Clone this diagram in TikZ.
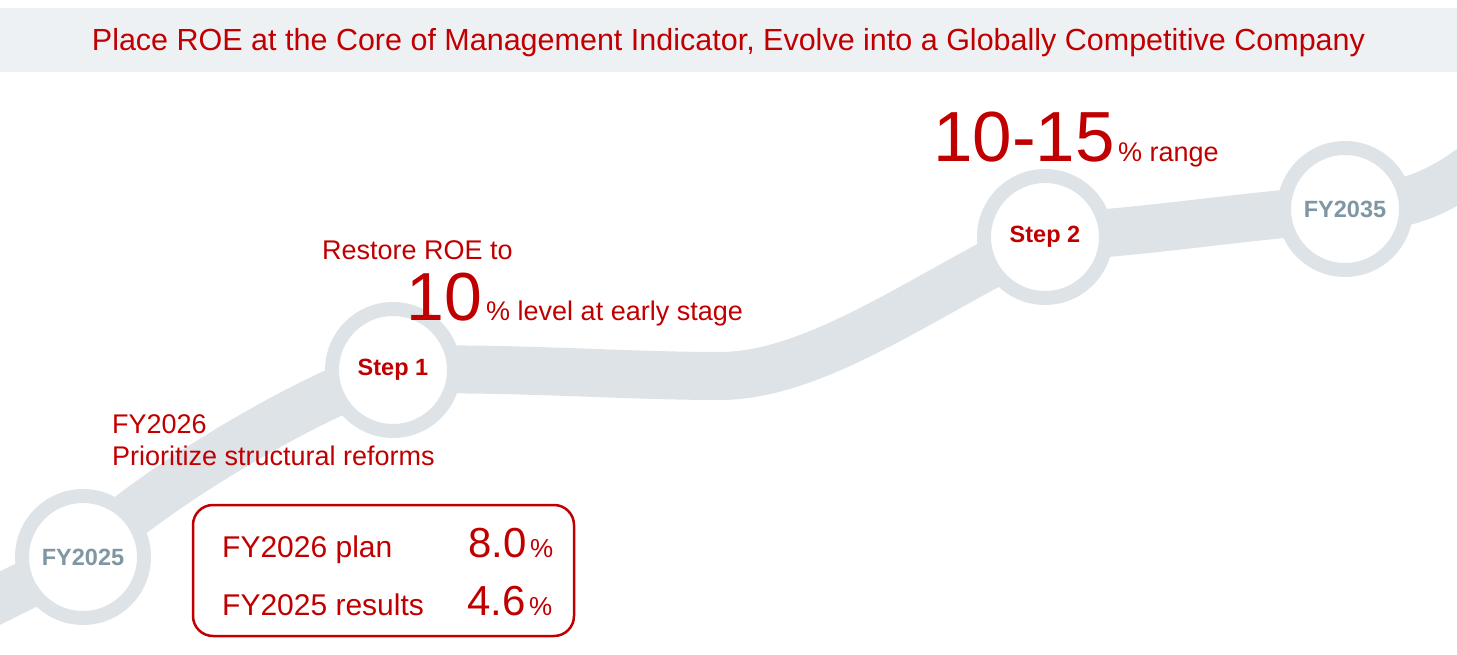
\documentclass[tikz,border=0pt]{standalone}
\usepackage{fontspec}
\setmainfont{Liberation Sans}
\usetikzlibrary{backgrounds}
\definecolor{roeRed}{RGB}{192,0,0}
\definecolor{roadGray}{RGB}{222,227,231}
\definecolor{barGray}{RGB}{238,241,244}
\definecolor{yearGray}{RGB}{127,150,163}
\newcommand{\fs}[1]{\fontsize{#1}{#1}\selectfont}

\begin{document}
\begin{tikzpicture}[x=1pt, y=-1pt, text=roeRed, inner sep=0pt,
    road/.style={draw=roadGray, line width=48}]
		\useasboundingbox (0,0) rectangle (1457,655);
		
		% Title
		\node[fill=barGray, minimum width=1457, minimum height=64] (bar) at (728.5,40) {};
		\node[anchor=base, font=\fs{30.5}] (title) at (728.5,51) {Place ROE at the Core of Management Indicator, Evolve into a Globally Competitive Company};
		
		% Milestones
		\begin{scope}[every node/.style={circle, draw=roadGray, line width=14, fill=white, minimum size=122, font=\bfseries\fs{23.5}}]
			\node[text=yearGray] (fy25) at (83,557) {FY2025};
			\node (step1) at (393,370) {Step 1};
			\node (step2) at (1045,237) {Step 2};
			\node[text=yearGray] (fy35) at (1345,209) {FY2035};
		\end{scope}
		\coordinate (start) at (-20,608);
		\coordinate (dip) at (720,376);
		\coordinate (finish) at (1495,150);
		
		% Road
		\begin{scope}[on background layer]
			\draw[road] (start) -- (fy25.center)
				.. controls +(55,-60) and +(-80,22) .. (step1.center)
				.. controls +(120,-3) and +(-100,0) .. (dip)
				.. controls +(100,0) and +(-110,50) .. (step2.center)
				.. controls +(100,-4) and +(-100,6) .. (fy35.center)
				.. controls +(70,-2) and +(-50,40) .. (finish);
		\end{scope}
		
		% Targets
		\begin{scope}[every node/.style={anchor=base west, font=\fs{27}}]
			\node (fy26) at (112,433) {FY2026};
			\node (reform) at (112,465) {Prioritize structural reforms};
			\node (restore) at (322,260) {Restore ROE to};
			\node[font=\fs{68}] (ten) at (406,320) {10};
			\node (level) at ([xshift=4]ten.base east) {\% level at early stage};
			\node[font=\fs{71}] (range) at (933,162) {10-15};
			\node (rangetxt) at ([xshift=3]range.base east) {\% range};
		\end{scope}
		
		% ROE box
		\node[draw=roeRed, line width=2.5, rounded corners=20, minimum width=381, minimum height=131] (kpi) at (383.5,570.5) {};
		\begin{scope}[every node/.style={anchor=base west, font=\fs{30}}]
			\node (plan) at (222,557) {FY2026 plan};
			\node (result) at (222,615) {FY2025 results};
		\end{scope}
		\begin{scope}[every node/.style={anchor=base east, font=\fs{42}}]
			\node (planval) at (527,557) {8.0};
			\node (resval) at (526,615) {4.6};
		\end{scope}
		\begin{scope}[every node/.style={anchor=base west, font=\fs{26}}]
			\node (planpct) at ([xshift=3]planval.base east) {\%};
			\node (respct) at ([xshift=3]resval.base east) {\%};
		\end{scope}
	\end{tikzpicture}
\end{document}
